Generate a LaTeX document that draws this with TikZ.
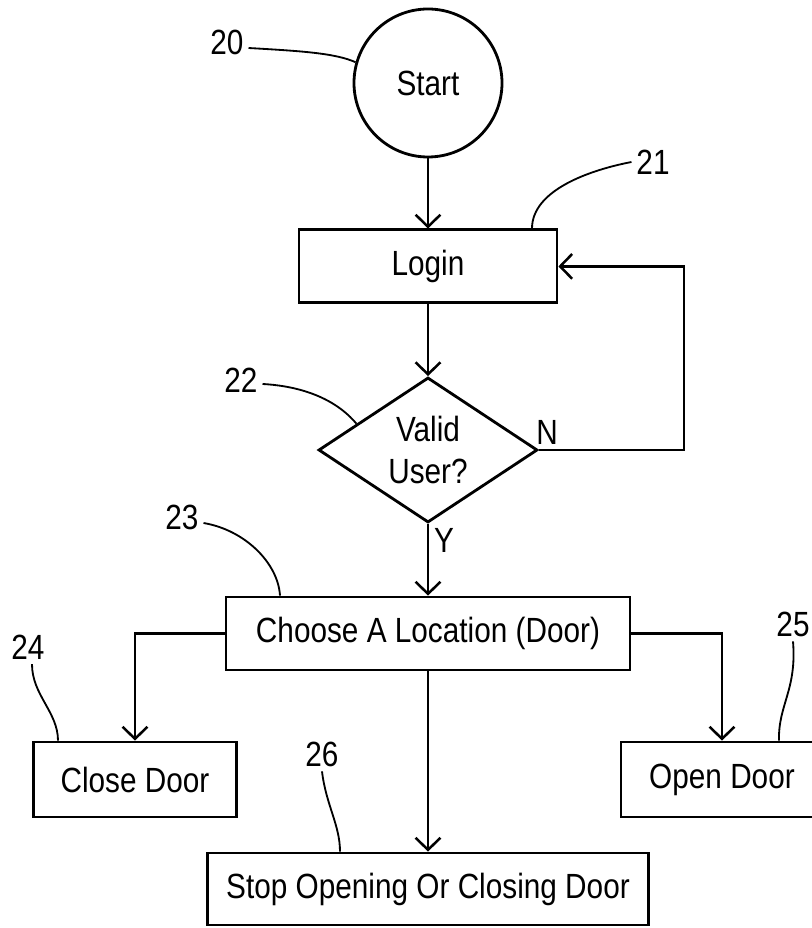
\documentclass[tikz,border=0pt]{standalone}
\usepackage{fontspec}
\setmainfont{Liberation Sans}[FakeStretch=0.85]
\usetikzlibrary{calc}
\usetikzlibrary{positioning}
\usetikzlibrary{shapes.geometric}
\usetikzlibrary{arrows.meta}

\tikzset{
  block/.style={draw, line width=2pt, inner sep=0pt, minimum height=1.825cm},
  flow/.style={line width=1.8pt, -{Straight Barb[length=0.3cm, width=0.62cm, line width=1.8pt]}},
  ref/.style={line width=1.3pt},
}

\begin{document}
\begin{tikzpicture}[font=\fontsize{24.9}{30}\selectfont]
                \useasboundingbox (0,0) rectangle (20.3,23.2);
                \node[draw, circle, line width=2pt, minimum size=3.7cm] (start) at (10.7,21.125) {Start};
                \node[block, minimum width=6.45cm] (login) at (10.7,16.54) {Login};
                \node[draw, diamond, line width=2pt, aspect=1.5, inner sep=0pt, minimum width=5.475cm, minimum height=3.625cm, align=center] (valid) at (10.7,11.95) {Valid\\User?};
                \node[block, minimum width=10.1cm] (choose) at (10.7,7.3625) {Choose A Location (Door)};
                \node[block, minimum width=5.075cm, minimum height=1.875cm] (close) at (3.375,3.7125) {Close Door};
                \node[block, minimum width=5.05cm, minimum height=1.875cm] (open) at (18.05,3.7125) {Open Door};
                \node[block, minimum width=11.025cm, minimum height=1.8cm] (stop) at (10.7,0.975) {Stop Opening Or Closing Door};
                \draw[flow] (start) -- (login);
                \draw[flow] (login) -- (valid);
                \coordinate (back) at (17.1,11.95);
                \draw[flow] (valid.east) -- (back) |- (login.east);
                \draw[flow] (valid) -- (choose);
                \draw[flow] (choose.west) -| (close.north);
                \draw[flow] (choose.east) -| (open.north);
                \draw[flow] (choose) -- (stop);
                \node (n) at (13.675,12.4) {N};
                \node (y) at (11.1,9.7) {Y};
                \node (l20) at (5.675,22.15) {20};
                \node (l21) at (16.325,19.15) {21};
                \node (l22) at (6.025,13.7) {22};
                \node (l23) at (4.55,10.275) {23};
                \node (l24) at (0.7,7.025) {24};
                \node (l25) at (19.825,7.6) {25};
                \node (l26) at (8.05,4.35) {26};
                \draw[ref] ([yshift=-0.15cm]l20.east) .. controls (7.5,21.925) and (8.375,21.875) .. (start.164);
                \draw[ref] (l21.west) .. controls (14.75,18.95) and (13.3,18.45) .. ([xshift=2.6cm]login.north);
                \draw[ref] ([yshift=-0.1cm]l22.east) .. controls (7.5,13.55) and (8.375,13.25) .. ($(valid.west)!0.355!(valid.north)$);
                \draw[ref] ([yshift=-0.15cm]l23.east) .. controls (6.125,9.95) and (6.95,9.125) .. ([xshift=-3.7cm]choose.north);
                \draw[ref] ([xshift=0.1cm]l24.south) .. controls (0.8,5.825) and (1.45,5.4) .. ([xshift=-1.925cm]close.north);
                \draw[ref] (l25.south) .. controls (19.925,5.95) and (19.45,5.575) .. ([xshift=1.425cm]open.north);
                \draw[ref] (l26.south) .. controls (8.15,3.075) and (8.5,2.575) .. ([xshift=-2.2cm]stop.north);
            \end{tikzpicture}
\end{document}
